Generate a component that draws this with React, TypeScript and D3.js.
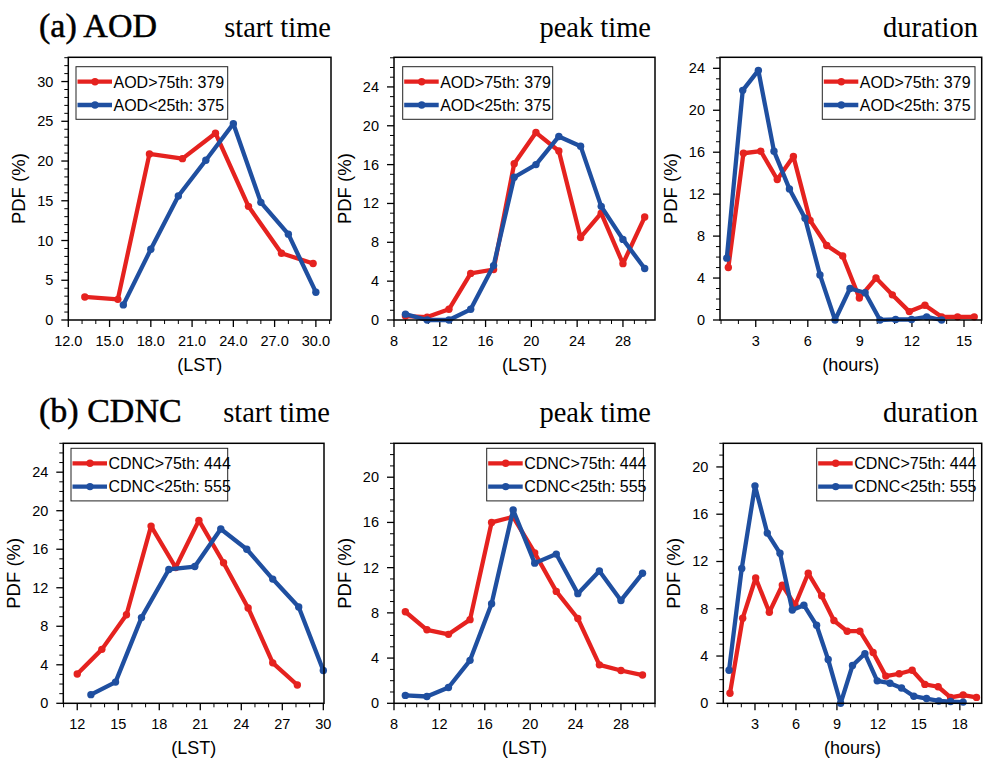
import React from "react";
import * as d3 from "d3";

// ---------- data ----------
// (a) AOD start time
const aodStartRedX = [13.2, 15.6, 17.9, 20.3, 22.7, 25.1, 27.5, 29.8];
const aodStartRedY = [2.9, 2.6, 20.9, 20.3, 23.5, 14.3, 8.4, 7.1];
const aodStartBlueX = [16, 18, 20, 22, 24, 26, 28, 30];
const aodStartBlueY = [1.9, 8.9, 15.6, 20.1, 24.7, 14.8, 10.8, 3.5];

// (a) AOD peak time
const aodPeakX = [9.0, 10.9, 12.8, 14.7, 16.7, 18.5, 20.4, 22.4, 24.3, 26.1, 28.0, 29.9];
const aodPeakRedY = [0.4, 0.3, 1.1, 4.8, 5.2, 16.1, 19.3, 17.4, 8.5, 11.0, 5.8, 10.6];
const aodPeakBlueY = [0.6, 0.0, 0.0, 1.1, 5.6, 14.7, 16.0, 18.9, 17.9, 11.7, 8.3, 5.3];

// (a) AOD duration
const aodDurRedX = [1.42, 2.29, 3.29, 4.24, 5.17, 6.13, 7.09, 8.01, 8.97, 9.93, 10.87, 11.85, 12.75, 13.71, 14.63, 15.59];
const aodDurRedY = [5.0, 15.9, 16.1, 13.4, 15.6, 9.5, 7.1, 6.1, 2.1, 4.0, 2.4, 0.8, 1.4, 0.3, 0.3, 0.3];
const aodDurBlueX = [1.33, 2.25, 3.15, 4.05, 4.94, 5.84, 6.7, 7.57, 8.43, 9.3, 10.16, 11.06, 11.98, 12.85, 13.71];
const aodDurBlueY = [5.9, 21.9, 23.8, 16.1, 12.5, 9.7, 4.3, 0.0, 3.0, 2.6, 0.0, 0.05, 0.05, 0.3, 0.0];

// (b) CDNC start time
const cdncStartRedX = [12.0, 13.8, 15.6, 17.4, 19.2, 20.9, 22.7, 24.5, 26.3, 28.1];
const cdncStartRedY = [3.05, 5.6, 9.2, 18.4, 14.1, 19.0, 14.6, 9.9, 4.2, 1.9];
const cdncStartBlueX = [13.0, 14.8, 16.7, 18.7, 20.6, 22.5, 24.4, 26.3, 28.2, 30.0];
const cdncStartBlueY = [0.9, 2.2, 8.9, 13.9, 14.2, 18.1, 16.0, 12.9, 10.0, 3.4];

// (b) CDNC peak time
const cdncPeakX = [9.0, 10.9, 12.8, 14.7, 16.6, 18.5, 20.4, 22.3, 24.2, 26.1, 28.0, 29.9];
const cdncPeakRedY = [8.1, 6.5, 6.1, 7.4, 16.0, 16.5, 13.3, 9.9, 7.5, 3.4, 2.9, 2.5];
const cdncPeakBlueY = [0.7, 0.6, 1.4, 3.8, 8.8, 17.1, 12.4, 13.2, 9.7, 11.7, 9.1, 11.5];

// (b) CDNC duration
const cdncDurRedX = [1.17, 2.1, 3.05, 4.05, 5.0, 5.93, 6.9, 7.88, 8.78, 9.75, 10.68, 11.65, 12.58, 13.56, 14.51, 15.44, 16.41, 17.32, 18.24, 19.22];
const cdncDurRedY = [0.85, 7.2, 10.6, 7.7, 10.0, 8.3, 11.0, 9.1, 7.0, 6.1, 6.1, 4.3, 2.3, 2.5, 2.8, 1.6, 1.4, 0.5, 0.7, 0.5];
const cdncDurBlueX = [1.1, 2.03, 3.0, 3.9, 4.83, 5.73, 6.58, 7.51, 8.36, 9.27, 10.14, 11.05, 11.95, 12.88, 13.73, 14.63, 15.56, 16.46, 17.32, 18.24];
const cdncDurBlueY = [2.8, 11.4, 18.4, 14.4, 12.7, 7.9, 8.3, 6.6, 3.7, 0.0, 3.2, 4.2, 1.9, 1.7, 1.3, 0.6, 0.4, 0.2, 0.15, 0.1];

// legend labels
const aodLegend = ["AOD>75th: 379", "AOD<25th: 375"];
const cdncLegend = ["CDNC>75th: 444", "CDNC<25th: 555"];

// tick values
const xTicksStart1 = [12, 15, 18, 21, 24, 27, 30];
const xTicksPeak = [8, 12, 16, 20, 24, 28];
const xTicksDur1 = [3, 6, 9, 12, 15];
const xTicksStart2 = [12, 15, 18, 21, 24, 27, 30];
const xTicksDur2 = [3, 6, 9, 12, 15, 18];
const yTicks5 = [0, 5, 10, 15, 20, 25, 30];
const yTicks4a = [0, 4, 8, 12, 16, 20, 24];
const yTicks4b = [0, 4, 8, 12, 16, 20];

const RED = "#e5221f";
const BLUE = "#1f4fa0";

type Panel = {
  box: [number, number, number, number]; // x0, y0, x1, y1
  xDomain: [number, number];
  yDomain: [number, number];
  xTicks: number[];
  xFmt: (v: number) => string;
  yTicks: number[];
  xLabel: string;
  red: [number[], number[]];
  blue: [number[], number[]];
  legend: string[];
  legendBox: [number, number, number]; // x, y, width
};

const fmt1 = (v: number) => v.toFixed(1);
const fmt0 = (v: number) => String(v);

const panels: Panel[] = [
  {
    box: [68.3, 57.3, 331, 320],
    xDomain: [12, 31.1],
    yDomain: [0, 33.05],
    xTicks: xTicksStart1,
    xFmt: fmt1,
    yTicks: yTicks5,
    xLabel: "(LST)",
    red: [aodStartRedX, aodStartRedY],
    blue: [aodStartBlueX, aodStartBlueY],
    legend: aodLegend,
    legendBox: [76, 66.7, 151.7],
  },
  {
    box: [394, 57.3, 655, 320],
    xDomain: [8, 30.8],
    yDomain: [0, 27.05],
    xTicks: xTicksPeak,
    xFmt: fmt0,
    yTicks: yTicks4a,
    xLabel: "(LST)",
    red: [aodPeakX, aodPeakRedY],
    blue: [aodPeakX, aodPeakBlueY],
    legend: aodLegend,
    legendBox: [402.7, 66.7, 150],
  },
  {
    box: [720, 57.3, 981.7, 320],
    xDomain: [0.94, 16.02],
    yDomain: [0, 25.05],
    xTicks: xTicksDur1,
    xFmt: fmt0,
    yTicks: yTicks4a,
    xLabel: "(hours)",
    red: [aodDurRedX, aodDurRedY],
    blue: [aodDurBlueX, aodDurBlueY],
    legend: aodLegend,
    legendBox: [822.3, 66.7, 152.7],
  },
  {
    box: [63.3, 443.3, 324, 703.3],
    xDomain: [10.98, 30.05],
    yDomain: [0, 27],
    xTicks: xTicksStart2,
    xFmt: fmt0,
    yTicks: yTicks4a,
    xLabel: "(LST)",
    red: [cdncStartRedX, cdncStartRedY],
    blue: [cdncStartBlueX, cdncStartBlueY],
    legend: cdncLegend,
    legendBox: [71, 448.3, 156.7],
  },
  {
    box: [394, 443.3, 655, 703.3],
    xDomain: [8, 31],
    yDomain: [0, 23],
    xTicks: xTicksPeak,
    xFmt: fmt0,
    yTicks: yTicks4b,
    xLabel: "(LST)",
    red: [cdncPeakX, cdncPeakRedY],
    blue: [cdncPeakX, cdncPeakBlueY],
    legend: cdncLegend,
    legendBox: [486.7, 448.3, 156.7],
  },
  {
    box: [723.3, 443.3, 981.7, 703.3],
    xDomain: [0.68, 19.6],
    yDomain: [0, 22],
    xTicks: xTicksDur2,
    xFmt: fmt0,
    yTicks: yTicks4b,
    xLabel: "(hours)",
    red: [cdncDurRedX, cdncDurRedY],
    blue: [cdncDurBlueX, cdncDurBlueY],
    legend: cdncLegend,
    legendBox: [816.7, 448.3, 156.7],
  },
];

const SANS = "'Liberation Sans', Arial, Helvetica, sans-serif";
const SERIF = "'Liberation Serif', 'Times New Roman', serif";

function PanelView({ p }: { p: Panel }) {
  const [x0, y0, x1, y1] = p.box;
  const xs = d3.scaleLinear().domain(p.xDomain).range([x0, x1]);
  const ys = d3.scaleLinear().domain(p.yDomain).range([y1, y0]);
  const line = d3
    .line<[number, number]>()
    .x((d) => xs(d[0]))
    .y((d) => ys(d[1]));

  const minorX = d3
    .range(Math.ceil(p.xDomain[0]), Math.floor(p.xDomain[1]) + 1, 1)
    .filter((v) => !p.xTicks.includes(v));
  const minorY = d3
    .range(Math.ceil(p.yDomain[0]), Math.floor(p.yDomain[1]) + 1, 1)
    .filter((v) => !p.yTicks.includes(v));

  const series = [
    { data: d3.zip(p.red[0], p.red[1]) as [number, number][], color: RED },
    { data: d3.zip(p.blue[0], p.blue[1]) as [number, number][], color: BLUE },
  ];

  const [lx, ly, lw] = p.legendBox;
  const lh = 52.6;

  const cy = (y0 + y1) / 2;
  const cx = (x0 + x1) / 2;

  return (
    <g>
      {/* ticks */}
      {minorY.map((v) => (
        <line key={"my" + v} x1={x0 - 4} x2={x0} y1={ys(v)} y2={ys(v)} stroke="#000" strokeWidth={1} />
      ))}
      {p.yTicks.map((v) => (
        <g key={"y" + v}>
          <line x1={x0 - 7} x2={x0} y1={ys(v)} y2={ys(v)} stroke="#000" strokeWidth={1.3} />
          <text x={x0 - 15} y={ys(v) + 5} textAnchor="end" fontSize={14.5} fontFamily={SANS}>
            {v}
          </text>
        </g>
      ))}
      {minorX.map((v) => (
        <line key={"mx" + v} x1={xs(v)} x2={xs(v)} y1={y1} y2={y1 + 4} stroke="#000" strokeWidth={1} />
      ))}
      {p.xTicks.map((v) => (
        <g key={"x" + v}>
          <line x1={xs(v)} x2={xs(v)} y1={y1} y2={y1 + 7} stroke="#000" strokeWidth={1.3} />
          <text x={xs(v)} y={y1 + 26} textAnchor="middle" fontSize={14.5} fontFamily={SANS}>
            {p.xFmt(v)}
          </text>
        </g>
      ))}
      {/* axis labels */}
      <text
        x={0}
        y={0}
        transform={`translate(${x0 - 43},${cy}) rotate(-90)`}
        textAnchor="middle"
        fontSize={18.5}
        fontFamily={SANS}
      >
        PDF (%)
      </text>
      <text x={cx} y={y1 + 51} textAnchor="middle" fontSize={18} fontFamily={SANS}>
        {p.xLabel}
      </text>

      {/* series */}
      {series.map((s, i) => (
        <g key={"s" + i}>
          <path d={line(s.data) || ""} fill="none" stroke={s.color} strokeWidth={4.3} strokeLinejoin="round" />
          {s.data.map((d, j) => (
            <circle key={j} cx={xs(d[0])} cy={ys(d[1])} r={3.7} fill={s.color} />
          ))}
        </g>
      ))}

      {/* frame */}
      <rect x={x0} y={y0} width={x1 - x0} height={y1 - y0} fill="none" stroke="#000" strokeWidth={1.5} />

      {/* legend */}
      <rect x={lx} y={ly} width={lw} height={lh} fill="#fff" stroke="#222" strokeWidth={1} />
      {p.legend.map((t, i) => {
        const ry = ly + 15 + i * 23.3;
        const color = i === 0 ? RED : BLUE;
        return (
          <g key={"l" + i}>
            <line x1={lx + 1.5} x2={lx + 36} y1={ry} y2={ry} stroke={color} strokeWidth={4.3} />
            <circle cx={lx + 19} cy={ry} r={3.7} fill={color} />
            <text x={lx + 37.5} y={ry + 5.8} fontSize={16} fontFamily={SANS}>
              {t}
            </text>
          </g>
        );
      })}
    </g>
  );
}

export default function App() {
  return (
    <svg
      width={984}
      height={758}
      viewBox="0 0 984 758"
      style={{ position: "absolute", left: 0, top: 0, background: "#fff" }}
    >
      <rect width={984} height={758} fill="#fff" />
      <text x={39} y={37} fontSize={34} fontFamily={SERIF} stroke="#000" strokeWidth={0.5}>
        (a) AOD
      </text>
      <text x={331} y={37} textAnchor="end" fontSize={28.5} fontFamily={SERIF}>
        start time
      </text>
      <text x={651} y={37} textAnchor="end" fontSize={28.5} fontFamily={SERIF}>
        peak time
      </text>
      <text x={978} y={37} textAnchor="end" fontSize={28.5} fontFamily={SERIF}>
        duration
      </text>
      <text x={39} y={422} fontSize={34} fontFamily={SERIF} stroke="#000" strokeWidth={0.5}>
        (b) CDNC
      </text>
      <text x={330} y={422} textAnchor="end" fontSize={28.5} fontFamily={SERIF}>
        start time
      </text>
      <text x={651} y={422} textAnchor="end" fontSize={28.5} fontFamily={SERIF}>
        peak time
      </text>
      <text x={978} y={422} textAnchor="end" fontSize={28.5} fontFamily={SERIF}>
        duration
      </text>
      {panels.map((p, i) => (
        <PanelView key={i} p={p} />
      ))}
    </svg>
  );
}
